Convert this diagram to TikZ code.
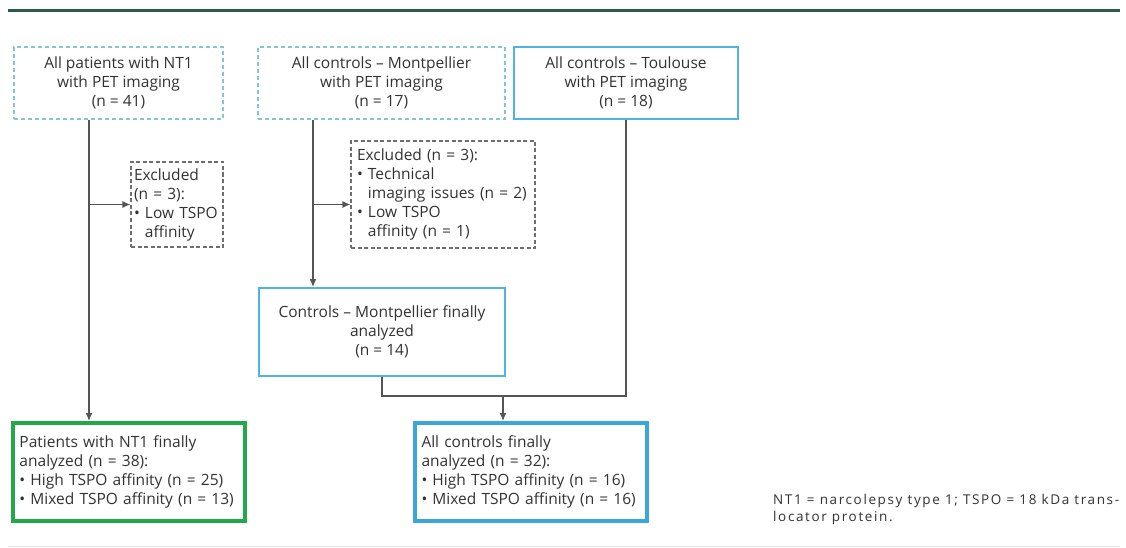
\documentclass[tikz,border=0pt]{standalone}
\usepackage{fontspec}
\setmainfont{Open Sans}
\usetikzlibrary{arrows.meta}
\definecolor{ruleline}{RGB}{45,90,72}
\definecolor{textgray}{RGB}{50,50,50}
\definecolor{paleteal}{RGB}{130,198,210}
\definecolor{midblue}{RGB}{80,180,225}
\definecolor{strongblue}{RGB}{58,166,220}
\definecolor{strongreen}{RGB}{34,168,74}
\definecolor{lineGray}{RGB}{85,85,85}
\definecolor{exclgray}{RGB}{110,110,110}

\begin{document}
\begin{tikzpicture}[x=1pt, y=-1pt, >={Latex[length=8pt,width=7pt]},
    every node/.style = {font=\fontsize{15.5}{19}\selectfont, text=textgray},
    dashbox/.style = {draw=paleteal, line width=1.2pt, dash pattern=on 4pt off 3pt, align=center, minimum height=72pt},
    bluebox/.style = {draw=midblue, line width=2pt, align=center},
    exclbox/.style = {draw=exclgray, line width=1.2pt, dash pattern=on 4pt off 2.5pt, align=left},
    finalbox/.style = {line width=4pt, align=left, inner xsep=6.5pt, text width=219pt, minimum height=98pt},
    conn/.style = {draw=lineGray, line width=1.3pt}]
    \useasboundingbox (0,0) rectangle (1126,548);
    \draw[ruleline, line width=3pt] (8,11) -- (1120,11);
    \draw[gray!20, line width=0.8pt] (8,546) -- (1120,546);

    \node[dashbox, minimum width=209pt] (allpat) at (118.5,83) {All patients with NT1\\with PET imaging\\(n = 41)};
    \node[dashbox, minimum width=247pt] (allmontp) at (381.5,83) {All controls – Montpellier\\with PET imaging\\(n = 17)};
    \node[bluebox, minimum width=224pt, minimum height=72pt] (alltoul) at (626,83) {All controls – Toulouse\\with PET imaging\\(n = 18)};
    \node[exclbox, inner xsep=3pt, text width=86pt, minimum height=85pt] (excl1) at (177,204.5) {Excluded\\(n = 3):\\• Low TSPO\\\phantom{•\ }affinity};
    \node[exclbox, inner xsep=6pt, text width=172pt, minimum height=107pt] (excl2) at (443,194.5) {Excluded (n = 3):\\• Technical\\\phantom{•\ }imaging issues (n = 2)\\• Low TSPO\\\phantom{•\ }affinity (n = 1)};
    \node[bluebox, minimum width=246pt, minimum height=88pt] (montpfin) at (382,332) {Controls – Montpellier finally\\analyzed\\(n = 14)};
    \node[finalbox, draw=strongreen] (patfin) at (129,472) {Patients with NT1 finally\\analyzed (n = 38):\\• High TSPO affinity (n = 25)\\• Mixed TSPO affinity (n = 13)};
    \node[finalbox, draw=strongblue] (ctrlfin) at (531,472) {All controls finally\\analyzed (n = 32):\\• High TSPO affinity (n = 16)\\• Mixed TSPO affinity (n = 16)};
    \node[font=\fontsize{13.5}{17}\selectfont\addfontfeature{LetterSpace=12}, align=left, inner sep=0pt, anchor=north west] (note) at (773,494) {NT1 = narcolepsy type 1; TSPO = 18 kDa trans-\\locator protein.};

    % patients branch
    \coordinate (pbr) at ([xshift=-29.5pt]allpat.south);
    \draw[conn, ->] (pbr) -- (pbr |- patfin.north);
    \draw[conn, ->] (pbr |- excl1.west) -- (excl1.west);
    % Montpellier branch
    \coordinate (mbr) at ([xshift=-68.5pt]allmontp.south);
    \draw[conn, ->] (mbr) -- (mbr |- montpfin.north);
    \draw[conn, ->] (mbr |- excl1.west) -- (excl1.west -| excl2.west);
    % merge of controls
    \coordinate (merge) at (503,396);
    \draw[conn] (montpfin.south) |- (merge) -| (alltoul.south);
    \draw[conn, ->] (merge) -- (merge |- ctrlfin.north);
\end{tikzpicture}
\end{document}
